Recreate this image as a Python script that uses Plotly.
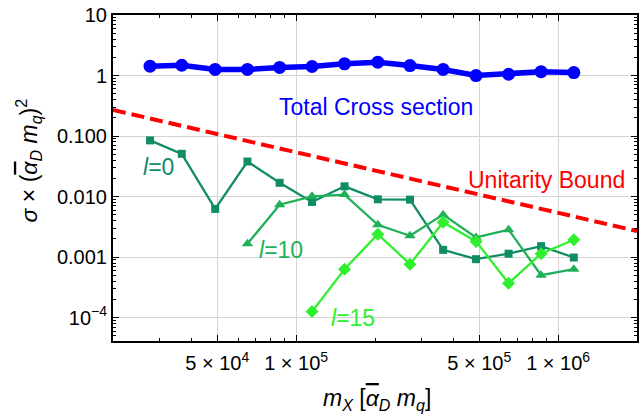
import plotly.graph_objects as go

# ---------------- data ----------------
mx = [27700, 36600, 49100, 65200, 86500, 115000, 153000, 205000,
      272000, 364000, 486000, 647000, 861000, 1148000]
sigma_total = [1.43, 1.48, 1.26, 1.26, 1.36, 1.41, 1.56, 1.66,
               1.46, 1.26, 1.00, 1.05, 1.16, 1.12]
sigma_l0 = [0.0848, 0.0509, 0.00626, 0.0380, 0.0169, 0.00817, 0.0148,
            0.00903, 0.00892, 0.00132, 0.000927, 0.00114, 0.00152, 0.000986]
mx_l10 = mx[3:]
sigma_l10 = [0.00166, 0.00736, 0.0101, 0.0108, 0.00343, 0.00226,
             0.00504, 0.00212, 0.00284, 0.000504, 0.000633]
mx_l15 = mx[5:]
sigma_l15 = [0.000126, 0.000633, 0.00240, 0.000766, 0.00376,
             0.00182, 0.000371, 0.00114, 0.00194]
unit_x = [20000, 2000000]
unit_y = [0.27, 0.0027]

x_tickvals = [5e4, 1e5, 5e5, 1e6]
x_ticktext = ["5 × 10<sup>4</sup>", "1 × 10<sup>5</sup>",
              "5 × 10<sup>5</sup>", "1 × 10<sup>6</sup>"]
x_minor = [2e4, 3e4, 4e4, 6e4, 7e4, 8e4, 9e4, 1e5, 2e5, 3e5, 4e5,
           6e5, 7e5, 8e5, 9e5, 2e6]
y_tickvals = [1e-4, 1e-3, 1e-2, 1e-1, 1, 10]
y_ticktext = ["10<sup>−4</sup>", "0.001", "0.010", "0.100", "1", "10"]
y_minor = [m * 10 ** e for e in range(-5, 1) for m in range(2, 10)]

C_TOTAL = "#0000ff"
C_UNIT = "#ff0000"
C_L0 = "#108c66"
C_L10 = "#1fb058"
C_L15 = "#2ef02e"

FONT = "Liberation Sans, Arial, sans-serif"
ABAR = "<span style='text-decoration:overline'><i>α</i></span>"

fig = go.Figure()
fig.add_trace(go.Scatter(x=unit_x, y=unit_y, mode="lines",
                         line=dict(color=C_UNIT, width=4, dash="13px,6px")))
fig.add_trace(go.Scatter(x=mx, y=sigma_l0, mode="lines+markers",
                         line=dict(color=C_L0, width=2.3),
                         marker=dict(symbol="square", size=8, color=C_L0)))
fig.add_trace(go.Scatter(x=mx_l10, y=sigma_l10, mode="lines+markers",
                         line=dict(color=C_L10, width=2.3),
                         marker=dict(symbol="triangle-up", size=10, color=C_L10)))
fig.add_trace(go.Scatter(x=mx_l15, y=sigma_l15, mode="lines+markers",
                         line=dict(color=C_L15, width=2.3),
                         marker=dict(symbol="diamond", size=10, color=C_L15)))
fig.add_trace(go.Scatter(x=mx, y=sigma_total, mode="lines+markers",
                         line=dict(color=C_TOTAL, width=5.5),
                         marker=dict(symbol="circle", size=13, color=C_TOTAL)))

axis_common = dict(
    showline=True, linecolor="black", linewidth=2, mirror="ticks",
    ticks="inside", ticklen=6, tickwidth=1, tickcolor="black",
    showgrid=True, gridcolor="#d4d4d4", gridwidth=1, zeroline=False,
    tickfont=dict(family=FONT, size=20, color="black"),
)

fig.update_xaxes(type="log", range=[4.30103, 6.30103],
                 tickmode="array", tickvals=x_tickvals, ticktext=x_ticktext,
                 ticklabelstandoff=3,
                 minor=dict(tickmode="array", tickvals=x_minor, ticks="inside",
                            ticklen=3, tickcolor="black", showgrid=False),
                 **axis_common)
fig.update_yaxes(type="log", range=[-4.385, 1.0],
                 tickmode="array", tickvals=y_tickvals, ticktext=y_ticktext,
                 minor=dict(tickmode="array", tickvals=y_minor, ticks="inside",
                            ticklen=3, tickcolor="black", showgrid=False),
                 **axis_common)

ann = [
    dict(text="Total Cross section", x=0.501, y=0.717, color=C_TOTAL),
    dict(text="Unitarity Bound", x=0.827, y=0.494, color=C_UNIT),
    dict(text="<i>l</i>=0", x=0.0875, y=0.534, color=C_L0),
    dict(text="<i>l</i>=10", x=0.321, y=0.279, color=C_L10),
    dict(text="<i>l</i>=15", x=0.458, y=0.0706, color=C_L15),
]
for a in ann:
    fig.add_annotation(text=a["text"], x=a["x"], y=a["y"], xref="paper", yref="paper",
                       xanchor="center", yanchor="middle", showarrow=False,
                       font=dict(family=FONT, size=23, color=a["color"]))

fig.add_annotation(
    text="<i>σ</i> × (" + ABAR + "<sub><i>D</i></sub> <i>m</i><sub><i>q</i></sub>)<sup>2</sup>",
    x=-0.1616, y=0.555, xref="paper", yref="paper", textangle=-90,
    xanchor="center", yanchor="middle", showarrow=False,
    font=dict(family=FONT, size=23, color="black"))
fig.add_annotation(
    text="<i>m</i><sub><i>X</i></sub> [" + ABAR + "<sub><i>D</i></sub> <i>m</i><sub><i>q</i></sub>]",
    x=0.503, y=-0.18, xref="paper", yref="paper",
    xanchor="center", yanchor="middle", showarrow=False,
    font=dict(family=FONT, size=23, color="black"))

fig.update_layout(
    width=640, height=420, showlegend=False,
    margin=dict(l=113, r=1, t=15, b=79),
    paper_bgcolor="white", plot_bgcolor="white",
    font=dict(family=FONT),
)

fig.write_html("out.html")
